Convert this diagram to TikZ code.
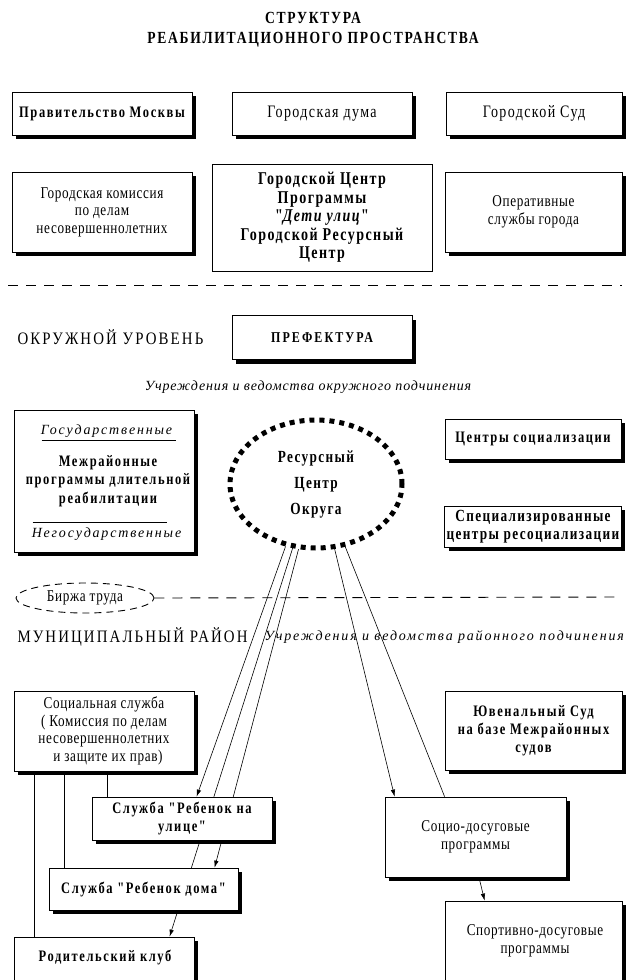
\documentclass[tikz,border=0pt]{standalone}
\usepackage{fontspec}
\setmainfont{Liberation Serif}
\newfontfamily\bfam[LetterSpace=10,FakeStretch=0.78]{Liberation Serif}
\newfontfamily\bcfam[LetterSpace=8,FakeStretch=0.78]{Liberation Serif}
\newfontfamily\rfam[LetterSpace=4,FakeStretch=0.8]{Liberation Serif}
\newfontfamily\rwfam[LetterSpace=8,FakeStretch=0.8]{Liberation Serif}
\newfontfamily\ifam[LetterSpace=6]{Liberation Serif}
\newfontfamily\iwfam[LetterSpace=13]{Liberation Serif}
\newfontfamily\cfam[LetterSpace=12,FakeStretch=0.85]{Liberation Serif}
\newfontfamily\tfam[LetterSpace=10,FakeStretch=0.8]{Liberation Serif}
\newfontfamily\pfam[LetterSpace=14,FakeStretch=0.8]{Liberation Serif}
\usetikzlibrary{shapes.geometric,shadows,arrows.meta,calc,backgrounds}
\tikzset{
  box/.style={draw, line width=0.8pt, fill=white, inner sep=2pt, align=center,
    drop shadow={shadow xshift=4pt, shadow yshift=-4pt, fill=black, opacity=1}},
  plainbox/.style={draw, line width=0.8pt, fill=white, inner sep=2pt, align=center},
  bt/.style={font=\bfam\bfseries\fontsize{16}{18}\selectfont},
  btl/.style={font=\bcfam\bfseries\fontsize{17}{18}\selectfont},
  btc/.style={font=\bcfam\bfseries\fontsize{18}{18.5}\selectfont},
  rt/.style={font=\rfam\fontsize{16.5}{17.5}\selectfont},
  rtw/.style={font=\rwfam\fontsize{17.5}{18}\selectfont},
  itx/.style={font=\ifam\itshape\fontsize{14}{17}\selectfont},
  itw/.style={font=\iwfam\itshape\fontsize{14}{17}\selectfont},
  caps/.style={font=\cfam\fontsize{17.5}{18}\selectfont},
  conn/.style={line width=0.6pt},
  arr/.style={conn, -{Latex[length=7pt,width=4.5pt]}},
  dsh/.style={line width=0.9pt, dash pattern=on 10pt off 8pt},
}
\begin{document}
\begin{tikzpicture}[x=1pt,y=-1pt]
\useasboundingbox (0,0) rectangle (626,980);
\clip (0,0) rectangle (626,980);

% title
\node[font=\tfam\bfseries\fontsize{17}{20}\selectfont, align=center] (title) at (313,30)
  {СТРУКТУРА\\РЕАБИЛИТАЦИОННОГО ПРОСТРАНСТВА};

% city level
\node[box,bt,minimum width=180,minimum height=43] (pm) at (102,113.5) {Правительство Москвы};
\node[box,rtw,minimum width=180,minimum height=43] (gd) at (322,113.5) {Городская дума};
\node[box,rtw,minimum width=176,minimum height=43] (gs) at (534,113.5) {Городской Суд};

\node[box,rt,minimum width=180,minimum height=80] (gk) at (102,212)
  {Городская комиссия\\по делам\\несовершеннолетних};
\node[plainbox,btc,minimum width=220,minimum height=107] (gc) at (322,217.5)
  {Городской Центр\\Программы\\"\textit{Дети улиц}"\\Городской Ресурсный\\Центр};
\node[box,rt,minimum width=177,minimum height=80] (os) at (533.5,212)
  {Оперативные\\службы города};

\coordinate (d1l) at (8,285);
\coordinate (d1r) at (622,285);
\draw[dsh] (d1l) -- (d1r);

% district level
\node[caps,anchor=west] (okr) at (14,337) {ОКРУЖНОЙ УРОВЕНЬ};
\node[box,font=\pfam\bfseries\fontsize{15}{16}\selectfont,minimum width=180,minimum height=44] (pref) at (322,337.5) {ПРЕФЕКТУРА};
\node[itx] (uch1) at (308,387) {Учреждения и ведомства окружного подчинения};

\node[box,minimum width=180,minimum height=142] (lb) at (104,481) {};
\node[itw] (gos) at (106.5,431) {Государственные};
\draw[conn] ($(lb.north west)+(28,31)$) -- ($(lb.north west)+(162,31)$);
\node[align=center,font=\bfam\bfseries\fontsize{16}{18.5}\selectfont] (mej) at (108,481)
  {Межрайонные\\программы длительной\\реабилитации};
\draw[conn] ($(lb.north west)+(19,113)$) -- ($(lb.north west)+(153,113)$);
\node[itw] (negos) at (106.5,534) {Негосударственные};

\node[ellipse, draw, line width=5pt, dash pattern=on 5pt off 5pt,
  minimum width=172, minimum height=128, inner sep=0pt, align=center,
  font=\bcfam\bfseries\fontsize{17}{26}\selectfont] (rc) at (316,484)
  {Ресурсный\\Центр\\Округа};

\node[box,bt,minimum width=176,minimum height=40] (cs) at (533,439) {Центры социализации};
\node[box,btl,minimum width=176,minimum height=41] (spc) at (533,526.5)
  {Специализированные\\центры ресоциализации};

\node[ellipse, draw, line width=0.9pt, dash pattern=on 7pt off 5pt,
  minimum width=138, minimum height=30, inner sep=0pt, rt] (bir) at (85,598) {Биржа труда};
\coordinate (d2r) at (622,597);
\draw[dsh] (bir.east) -- (d2r);

% municipal level
\node[caps,anchor=west] (mun) at (14,637) {МУНИЦИПАЛЬНЫЙ РАЙОН};
\node[itw,anchor=west] (uch2) at (261,637) {Учреждения и ведомства районного подчинения};

\node[box,rt,minimum width=180,minimum height=80] (ss) at (104,731)
  {Социальная служба\\( Комиссия по делам\\несовершеннолетних\\\hspace*{8pt}и защите их прав)};
\node[box,bt,minimum width=177,minimum height=79] (ju) at (533.5,730.5)
  {Ювенальный Суд\\на базе Межрайонных\\судов};
\node[box,bt,minimum width=180,minimum height=43] (rbu) at (182,818.5)
  {Служба "Ребенок на\\улице"};
\node[box,rt,minimum width=181,minimum height=80] (soc) at (475.5,837)
  {Социо-досуговые\\программы};
\node[box,bt,minimum width=189,minimum height=42] (rbd) at (143.5,889)
  {Служба "Ребенок дома"};
\node[box,minimum width=180,minimum height=66] (rk) at (104,970) {};
\node[bt] (rkt) at (105,957) {Родительский клуб};
\node[box,minimum width=177,minimum height=102] (sp) at (533.5,952) {};
\node[rt,align=center] (spt) at (535,941) {Спортивно-досуговые\\программы};

% connectors
\begin{scope}[on background layer]
  \coordinate (ta) at ($(rbu.north west)+(105,0)$);
  \coordinate (tb) at ($(rbd.north west)+(166,0)$);
  \coordinate (tc) at ($(rk.north west)+(156,0)$);
  \coordinate (td) at ($(soc.north west)+(10,0)$);
  \coordinate (te) at ($(soc.north west)+(60,0)$);
  \draw[arr] (rc.244) -- (ta);
  \draw[arr] (rc.250) -- (tc);
  \draw[arr] (rc.255) -- (tb);
  \draw[arr] (rc.286) -- (td);
  \draw[conn] (rc.295) -- (te);
  \coordinate (sa) at ($(soc.south)+(3.5,0)$);
  \coordinate (sb) at ($(sp.north west)+(40,0)$);
  \draw[arr] (sa) -- (sb);
  \coordinate (s1) at ($(ss.south west)+(21,0)$);
  \coordinate (s2) at ($(ss.south west)+(51,0)$);
  \coordinate (s3) at ($(ss.south west)+(94,0)$);
  \draw[conn] (s1) -- (s1 |- rk.north);
  \draw[conn] (s2) -- (s2 |- rbd.north);
  \draw[conn] (s3) -- (s3 |- rbu.north);
\end{scope}
\end{tikzpicture}
\end{document}
